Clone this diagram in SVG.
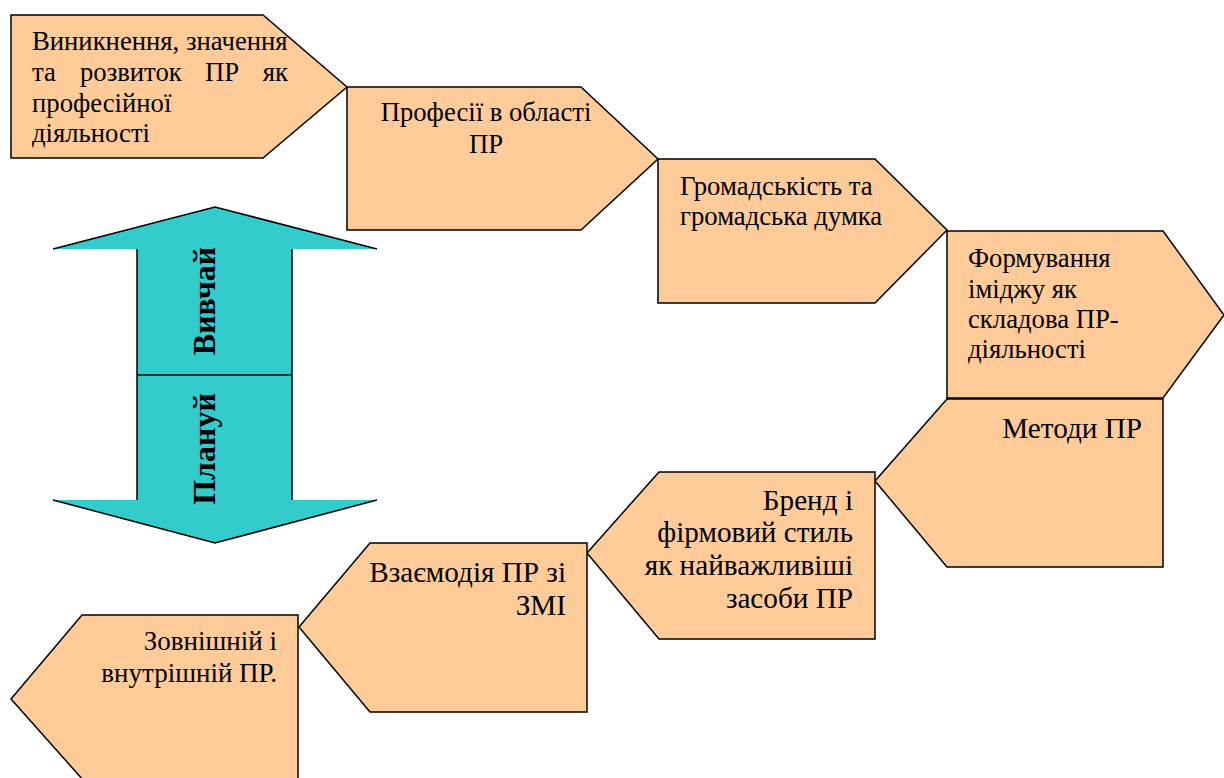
<svg xmlns="http://www.w3.org/2000/svg" width="1224" height="778" viewBox="0 0 1224 778">
<style>
.n{fill:#FFCC99;stroke:#000;stroke-width:1.5;stroke-linejoin:miter}
.t{font-family:"Liberation Serif","Times New Roman",serif;font-size:26.7px;fill:#000}
.l{font-size:29.2px}
.s{font-size:27px}
.r{text-anchor:end}
.m{text-anchor:middle}
.b{font-family:"Liberation Serif","Times New Roman",serif;font-size:32px;font-weight:bold;fill:#000;text-anchor:middle}
</style>
<rect width="1224" height="778" fill="#fff"/>
<g id="double-arrow">
<polygon points="215,207 377,249 292,249 292,500 377,500 215,543 53,500 137,500 137,249 53,249" fill="#33CCCC"/>
<path d="M53,249 L215,207 L377,249 M292,249 L292,500 M377,500 L215,543 L53,500 M137,500 L137,249 M137,375 L292,375" fill="none" stroke="#000" stroke-width="1.5"/>
<text class="b" transform="translate(215,301) rotate(-90)">Вивчай</text>
<text class="b" transform="translate(215,449) rotate(-90)">Плануй</text>
</g>
<g id="node1">
<polygon class="n" points="11,15 263,15 347,87 263,158 11,158"/>
<text class="t" x="32" y="50">Виникнення, значення</text>
<text class="t" x="32" y="81">та</text>
<text class="t" x="80" y="81">розвиток</text>
<text class="t" x="205" y="81">ПР</text>
<text class="t r" x="288" y="81">як</text>
<text class="t" x="32" y="112">професійної</text>
<text class="t" x="32" y="142">діяльності</text>
</g>
<g id="node2">
<polygon class="n" points="347,87 581,87 658,159 581,230 347,230"/>
<text class="t m" x="486" y="121">Професії в області</text>
<text class="t m" x="486" y="153">ПР</text>
</g>
<g id="node3">
<polygon class="n" points="658,159 875,159 947,230 875,303 658,303"/>
<text class="t" x="680" y="195">Громадськість та</text>
<text class="t" x="680" y="225">громадська думка</text>
</g>
<g id="node4">
<polygon class="n" points="947,231 1163,231 1224,315 1163,398 947,398"/>
<text class="t" x="968" y="267">Формування</text>
<text class="t" x="968" y="298">іміджу як</text>
<text class="t" x="968" y="328">складова ПР-</text>
<text class="t" x="968" y="358">діяльності</text>
</g>
<g id="node5">
<polygon class="n" points="947,399 1163,399 1163,567 947,567 875,481"/>
<text class="t l r" x="1142" y="438">Методи ПР</text>
</g>
<g id="node6">
<polygon class="n" points="659,472 875,472 875,639 659,639 587,553"/>
<text class="t l r" x="853" y="510">Бренд і</text>
<text class="t l r" x="853" y="542">фірмовий стиль</text>
<text class="t l r" x="853" y="575">як найважливіші</text>
<text class="t l r" x="853" y="608">засоби ПР</text>
</g>
<g id="node7">
<polygon class="n" points="370,543 587,543 587,712 370,712 299,627"/>
<text class="t l r" x="566" y="582">Взаємодія ПР зі</text>
<text class="t l r" x="566" y="615">ЗМІ</text>
</g>
<g id="node8">
<polygon class="n" points="82,615 298,615 298,790 92,790 11,699"/>
<text class="t s r" x="277" y="650">Зовнішній і</text>
<text class="t s r" x="277" y="682">внутрішній ПР.</text>
</g>
<g id="connectors"></g>
</svg>
